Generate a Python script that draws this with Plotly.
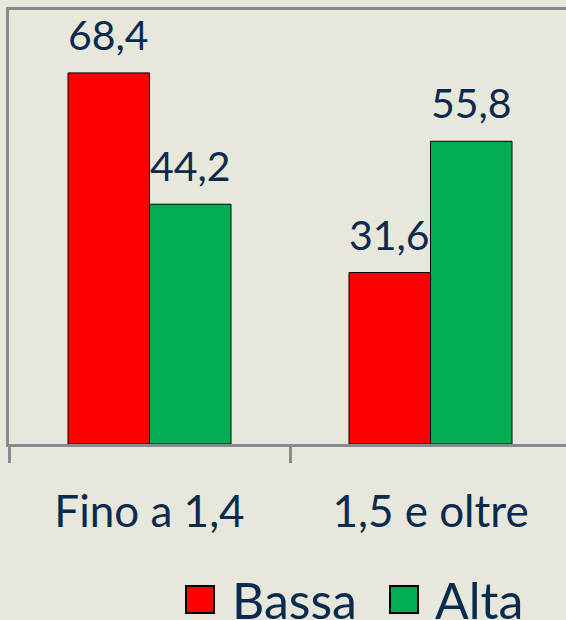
import plotly.graph_objects as go

categories = ["Fino a 1,4", "1,5 e oltre"]
bassa = [68.4, 31.6]
alta = [44.2, 55.8]
series_names = ["Bassa", "Alta"]
series_values = [bassa, alta]
colors = ["#FF0000", "#00AD50"]

W, H = 566, 620
L, T, R, B = 9, 10, 0, 176
PW, PH = W - L - R, H - T - B
CAT_PX = 281.0
BARGAP = 0.42

navy = "#0B2A50"
gray = "#8A8A90"
font = "Lato"

fig = go.Figure()
for name, vals, col in zip(series_names, series_values, colors):
    fig.add_trace(go.Bar(
        x=categories, y=vals, name=name,
        marker=dict(color=col, line=dict(color="black", width=1)),
        showlegend=False,
    ))

annotations = []
bw = (1 - BARGAP) / len(series_names)
for j, vals in enumerate(series_values):
    off = (j - (len(series_names) - 1) / 2) * bw
    for i, v in enumerate(vals):
        annotations.append(dict(
            x=i + off, y=v, xref="x", yref="y",
            text=f"{v:.1f}".replace(".", ","),
            showarrow=False, xanchor="center", yanchor="bottom", yshift=12,
            font=dict(family=font, size=41, color=navy),
        ))

def px2paper(px, py):
    return (px - L) / PW, (T + PH - py) / PH

shapes = []
legend_items = [(186, 230), (390, 433)]
for (sx, tx), name, col in zip(legend_items, series_names, colors):
    x0, y0 = px2paper(sx, 586)
    x1, y1 = px2paper(sx + 28, 613)
    shapes.append(dict(type="rect", xref="paper", yref="paper",
                       x0=x0, x1=x1, y0=y1, y1=y0,
                       fillcolor=col, line=dict(color="black", width=2)))
    ax, ay = px2paper(tx, 600)
    annotations.append(dict(text=name, xref="paper", yref="paper",
                            x=ax, y=ay, xanchor="left", yanchor="middle",
                            showarrow=False,
                            font=dict(family=font, size=50, color=navy)))

fig.update_layout(
    width=W, height=H,
    margin=dict(l=L, r=R, t=T, b=B, pad=0),
    paper_bgcolor="#E7E7DB", plot_bgcolor="#E7E7DB",
    separators=",.",
    barmode="group", bargap=BARGAP, bargroupgap=0,
    font=dict(family=font, color=navy),
    shapes=shapes, annotations=annotations,
    xaxis=dict(
        range=[-0.5, -0.5 + PW / CAT_PX],
        showline=True, linecolor=gray, linewidth=3, mirror=True,
        ticks="outside", tickson="boundaries", ticklen=16, tickwidth=3,
        tickcolor=gray, showgrid=False, ticklabelstandoff=27,
        tickfont=dict(family=font, size=44, color=navy),
    ),
    yaxis=dict(
        range=[0, 80], showline=True, linecolor=gray, linewidth=3,
        showticklabels=False, ticks="", showgrid=False, zeroline=False,
    ),
)

fig.write_html(
    "out.html",
    config={"displayModeBar": False},
    post_script="document.body.style.margin='0';document.body.style.overflow='hidden';",
)
